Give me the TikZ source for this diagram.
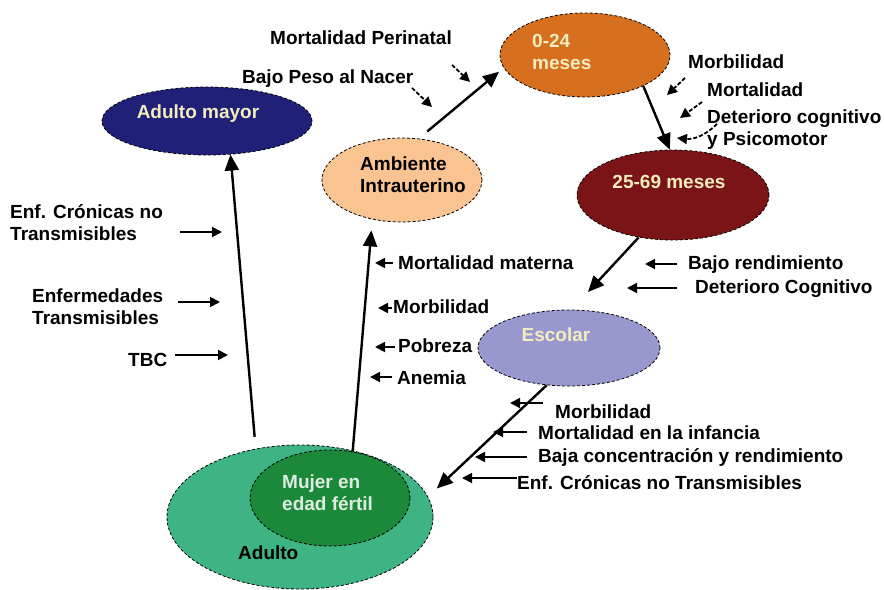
\documentclass[tikz,border=0pt]{standalone}
\usepackage{fontspec}
\setmainfont{Liberation Sans}
\usepackage{tikz}
\usetikzlibrary{arrows.meta,calc,shapes.geometric}
\definecolor{navyadm}{RGB}{32,32,120}
\definecolor{orange24}{RGB}{214,112,30}
\definecolor{peachamb}{RGB}{250,196,146}
\definecolor{red2569}{RGB}{122,20,22}
\definecolor{lavesc}{RGB}{152,152,206}
\definecolor{greenadu}{RGB}{62,180,132}
\definecolor{greenmef}{RGB}{28,136,58}
\definecolor{creamtxt}{RGB}{242,236,190}

\begin{document}
\begin{tikzpicture}[x=1pt,y=-1pt,
  font=\fontsize{19}{22}\selectfont\bfseries,
  etapa/.style={ellipse,draw,dash pattern=on 3pt off 2pt,line width=0.8pt,inner sep=0pt},
  txt/.style={inner sep=0pt,align=left},
  big/.style={line width=2.4pt,-{Triangle[length=16pt,width=14pt]}},
  sarr/.style={line width=1.8pt,-{Triangle[length=10pt,width=10pt]}},
  dsh/.style={dash pattern=on 4pt off 2pt}]
  \useasboundingbox (0,0) rectangle (885,589);
  % etapas
  \node[etapa,fill=navyadm,minimum width=210pt,minimum height=68pt] (adm) at (207,121) {};
  \node[etapa,fill=orange24,minimum width=170pt,minimum height=84pt] (o24) at (585,55) {};
  \node[etapa,fill=peachamb,minimum width=160pt,minimum height=84pt] (amb) at (402,180) {};
  \node[etapa,fill=red2569,minimum width=192pt,minimum height=90pt] (m2569) at (673,195) {};
  \node[etapa,fill=lavesc,minimum width=182pt,minimum height=76pt] (esc) at (569,348) {};
  \node[etapa,fill=greenadu,minimum width=266pt,minimum height=144pt] (adu) at (300,517) {};
  \node[etapa,fill=greenmef,minimum width=160pt,minimum height=96pt] (mef) at (330,498) {};
  \node[txt,text=creamtxt] (tadm) at (198,114) {Adulto mayor};
  \node[txt,text=creamtxt,anchor=west] (to24) at (532,52) {0-24\\meses};
  \node[txt,anchor=west] (tamb) at (360,175) {Ambiente\\Intrauterino};
  \node[txt,text=creamtxt] (t2569) at (669,182) {25-69 meses};
  \node[txt,text=creamtxt] (tesc) at (556,335) {Escolar};
  \node[txt,text=white!85!greenmef,anchor=west] (tmef) at (282,493) {Mujer en\\edad fértil};
  \node[txt,anchor=west] (tadu) at (238,553) {Adulto};
  % ciclo
  \draw[big,shorten <=12pt] (adu.123.6) -- (adm.-55.3);
  \draw[big,shorten >=11pt] (mef.64.5) -- (amb.-127.6);
  \draw[big,shorten <=11pt,shorten >=6pt] (amb.68.8) -- (o24.189.1);
  \draw[big] (o24.-28.7) -- (m2569.94);
  \draw[big,shorten >=24pt] (m2569.-129.9) -- (esc.86);
  \draw[big,shorten >=12pt] (esc.-121.7) -- (adu.9.1);
  % factores
  \node[txt,anchor=west] (lpn) at (270,38) {Mortalidad Perinatal};
  \node[txt,anchor=west] (lbp) at (242,79) {Bajo Peso al Nacer};
  \node[txt,anchor=west] (lmb1) at (688,62) {Morbilidad};
  \node[txt,anchor=west] (lmt1) at (707,90) {Mortalidad};
  \node[txt,anchor=west] (ldc) at (707,130) {Deterioro cognitivo\\y Psicomotor};
  \node[txt,anchor=west] (lbr) at (688,265) {Bajo rendimiento};
  \node[txt,anchor=west] (ldt) at (695,289) {Deterioro Cognitivo};
  \node[txt,anchor=west] (lec) at (10,223) {Enf. Crónicas no\\Transmisibles};
  \node[txt,anchor=west] (let) at (32,307) {Enfermedades\\Transmisibles};
  \node[txt,anchor=west] (ltb) at (128,360) {TBC};
  \node[txt,anchor=west] (lmm) at (398,263) {Mortalidad materna};
  \node[txt,anchor=west] (lmb2) at (393,307) {Morbilidad};
  \node[txt,anchor=west] (lpo) at (398,346) {Pobreza};
  \node[txt,anchor=west] (lan) at (397,378) {Anemia};
  \node[txt,anchor=west] (lmb3) at (555,412) {Morbilidad};
  \node[txt,anchor=west] (lmi) at (538,433) {Mortalidad en la infancia};
  \node[txt,anchor=west] (lbc) at (538,457) {Baja concentración y rendimiento};
  \node[txt,anchor=west] (len) at (517,483) {Enf. Crónicas no Transmisibles};
  \coordinate (cpn) at (470,82);
  \coordinate (cbp) at (432,107);
  \coordinate (cmb1) at (667,95);
  \coordinate (cmt1) at (680,118);
  \coordinate (cdc) at (677,138);
  \coordinate (cbr) at (645,264);
  \coordinate (cdt) at (627,288);
  \coordinate (cec) at (222,232);
  \coordinate (cet) at (220,302);
  \coordinate (ctb) at (228,355);
  \coordinate (cmm) at (375,263);
  \coordinate (cmb2) at (378,308);
  \coordinate (cpo) at (375,347);
  \coordinate (can) at (370,377);
  \coordinate (cmb3) at (510,403);
  \coordinate (cmi) at (493,432);
  \coordinate (cbc) at (475,457);
  \coordinate (cen) at (462,478);
  \draw[sarr,dsh] ($(cpn)+(-18,-17)$) -- (cpn);
  \draw[sarr,dsh] ($(cbp)+(-20,-19)$) -- (cbp);
  \draw[sarr,dsh] ($(cmb1)+(18,-17)$) -- (cmb1);
  \draw[sarr,dsh] ($(cmt1)+(22,-16)$) -- (cmt1);
  \draw[sarr,dsh] ($(cdc)+(40,-14)$) to[bend left=25] (cdc);
  \draw[sarr,shorten <=11pt] (lbr.west |- cbr) -- (cbr);
  \draw[sarr,shorten <=18pt] (ldt.west |- cdt) -- (cdt);
  \draw[sarr,shorten <=17pt] (lec.east |- cec) -- (cec);
  \draw[sarr,shorten <=15pt] (let.east |- cet) -- (cet);
  \draw[sarr,shorten <=8pt] (ltb.east |- ctb) -- (ctb);
  \draw[sarr,shorten <=5pt] (lmm.west |- cmm) -- (cmm);
  \draw[sarr,shorten <=1pt] (lmb2.west |- cmb2) -- (cmb2);
  \draw[sarr,shorten <=3pt] (lpo.west |- cpo) -- (cpo);
  \draw[sarr,shorten <=5pt] (lan.west |- can) -- (can);
  \draw[sarr,shorten <=12pt] (lmb3.west |- cmb3) -- (cmb3);
  \draw[sarr,shorten <=11pt] (lmi.west |- cmi) -- (cmi);
  \draw[sarr,shorten <=11pt] (lbc.west |- cbc) -- (cbc);
  \draw[sarr] (len.west |- cen) -- (cen);
\end{tikzpicture}
\end{document}
